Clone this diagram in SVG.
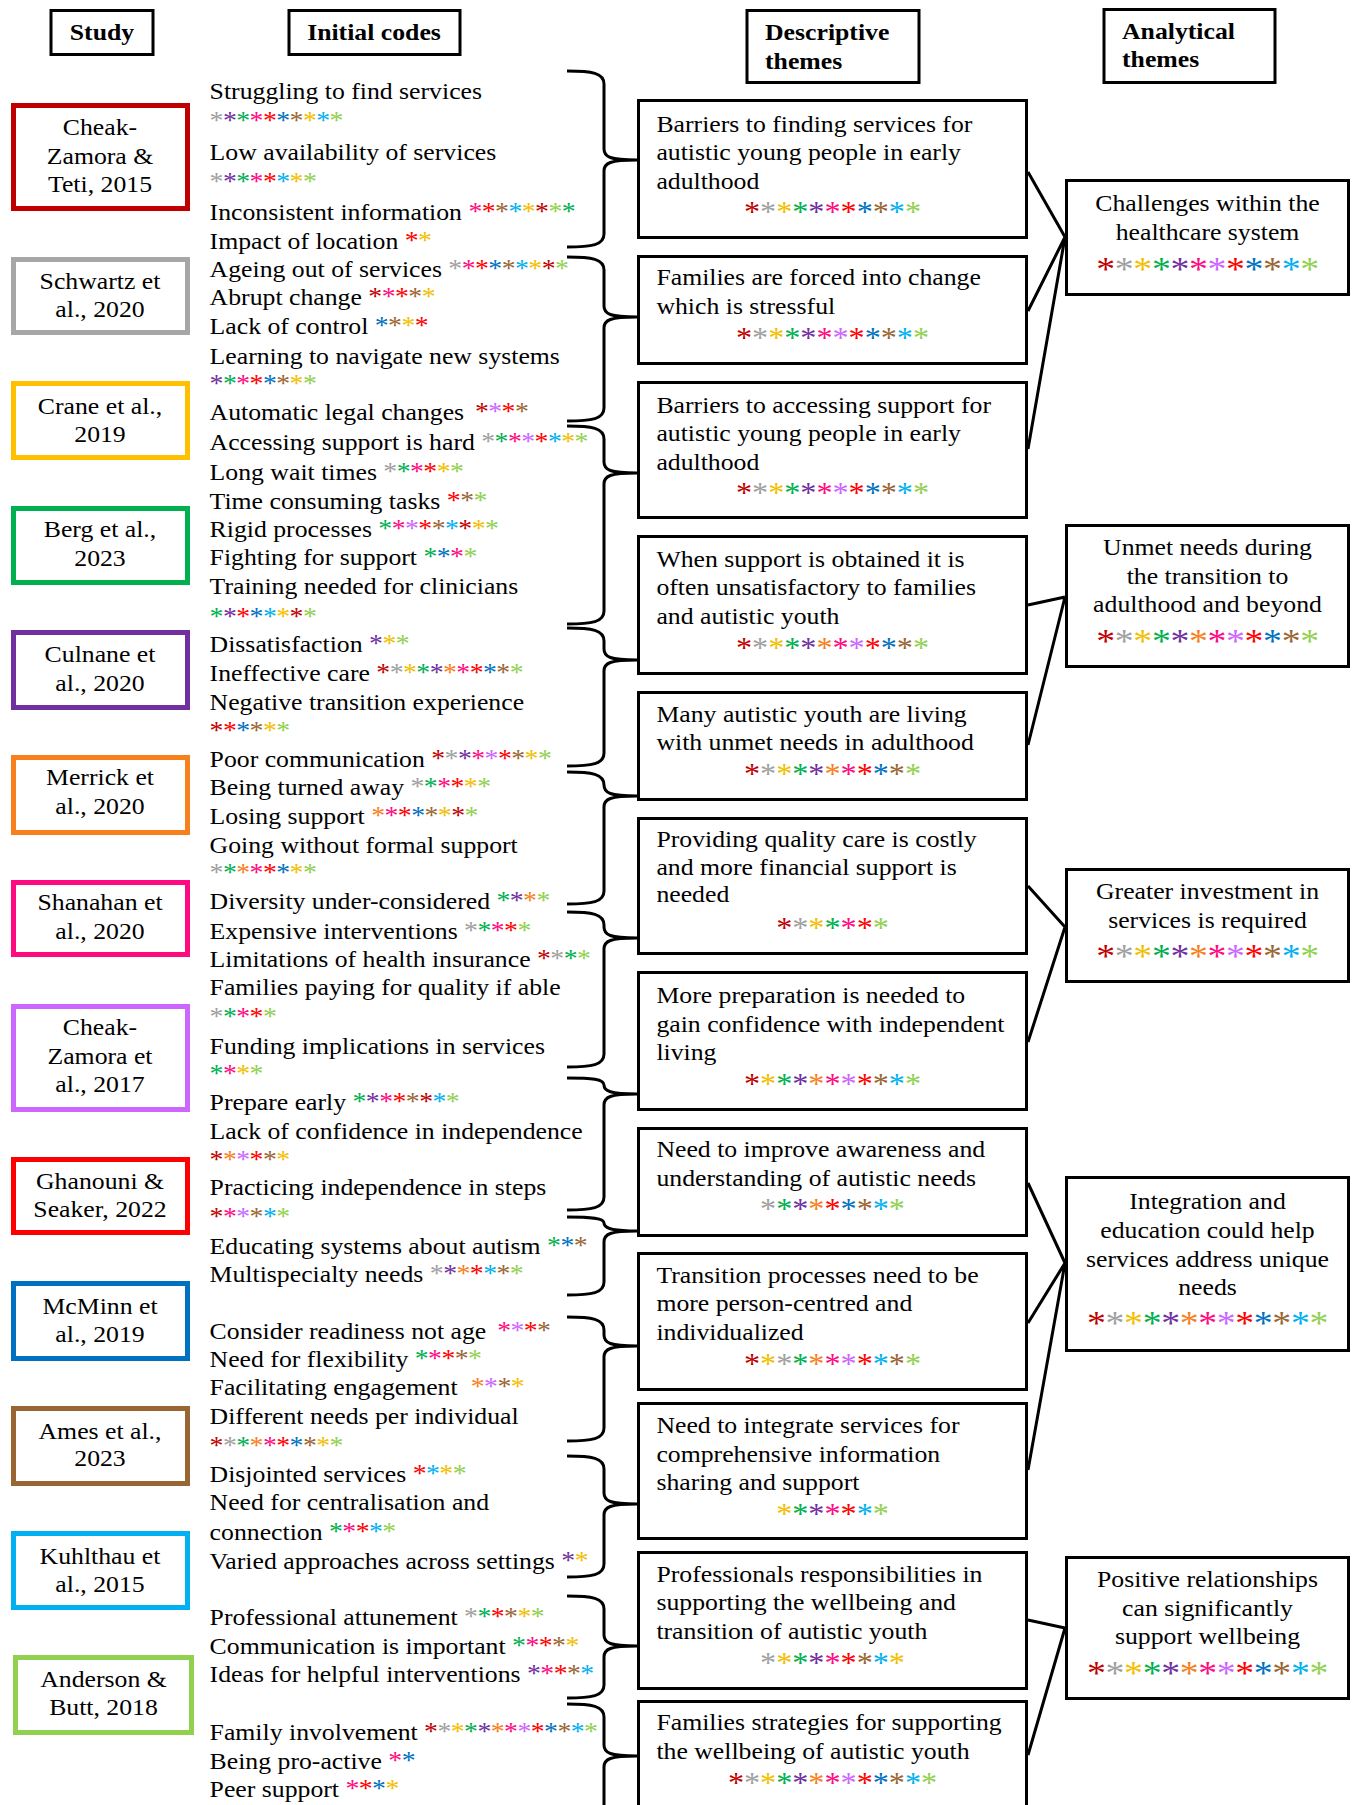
<svg xmlns="http://www.w3.org/2000/svg" width="1356" height="1805" viewBox="0 0 1356 1805">
<style>
text{font-family:"Liberation Serif","Times New Roman",serif;font-size:23.2px;fill:#000}
.b{font-weight:bold}
.m{text-anchor:middle}
.s{font-size:25px;letter-spacing:-0.5px}
.sd{font-size:29px;letter-spacing:0px}
.sa{font-size:34px;letter-spacing:-0.3px}
.k1{fill:#C00000}.k2{fill:#A0A0A0}.k3{fill:#F2BE00}.k4{fill:#00B050}.k5{fill:#7030A0}.k6{fill:#F7801E}.k7{fill:#FF0A80}.k8{fill:#CC66FF}.k9{fill:#FF0000}.k10{fill:#0070C0}.k11{fill:#996633}.k12{fill:#00B0F0}.k13{fill:#92D050}
.box{fill:#fff;stroke:#000;stroke-width:3}
.sb{fill:#fff;stroke-width:5}
.b1{stroke:#C00000}.b2{stroke:#A6A6A6}.b3{stroke:#FFC000}.b4{stroke:#00B050}.b5{stroke:#7030A0}.b6{stroke:#F7801E}.b7{stroke:#FF0A80}.b8{stroke:#CC66FF}.b9{stroke:#FF0000}.b10{stroke:#0070C0}.b11{stroke:#996633}.b12{stroke:#00B0F0}.b13{stroke:#92D050}
.br{fill:none;stroke:#000;stroke-width:3}
.ln{fill:none;stroke:#000;stroke-width:3}
</style>
<rect width="1356" height="1805" fill="#fff"/>

<g id="headers">
<g id="h-study"><rect class="box" x="51" y="10.5" width="102" height="44"/><g transform="translate(102,0) scale(1.11,1)"><text class="b m" x="0" y="40">Study</text></g></g>
<g id="h-codes"><rect class="box" x="289" y="10.5" width="171" height="44"/><g transform="translate(374,0) scale(1.11,1)"><text class="b m" x="0" y="40">Initial codes</text></g></g>
<g id="h-desc"><rect class="box" x="747" y="10.5" width="172" height="72"/><g transform="translate(765,0) scale(1.11,1)"><text class="b"><tspan x="0" y="40">Descriptive</tspan><tspan x="0" y="69">themes</tspan></text></g></g>
<g id="h-anal"><rect class="box" x="1104" y="9.5" width="171" height="73"/><g transform="translate(1122,0) scale(1.11,1)"><text class="b"><tspan x="0" y="39">Analytical</tspan><tspan x="0" y="67">themes</tspan></text></g></g>
</g>

<g id="studies">
<g id="study-1"><rect class="sb b1" x="13.5" y="105.5" width="174" height="103"/><g transform="translate(100,0) scale(1.11,1)"><text class="m"><tspan x="0" y="135">Cheak-</tspan><tspan x="0" y="164">Zamora &amp;</tspan><tspan x="0" y="192">Teti, 2015</tspan></text></g></g>
<g id="study-2"><rect class="sb b2" x="13.5" y="259.5" width="174" height="73"/><g transform="translate(100,0) scale(1.11,1)"><text class="m"><tspan x="0" y="289">Schwartz et</tspan><tspan x="0" y="317">al., 2020</tspan></text></g></g>
<g id="study-3"><rect class="sb b3" x="13.5" y="383.5" width="174" height="74"/><g transform="translate(100,0) scale(1.11,1)"><text class="m"><tspan x="0" y="414">Crane et al.,</tspan><tspan x="0" y="442">2019</tspan></text></g></g>
<g id="study-4"><rect class="sb b4" x="13.5" y="508.5" width="174" height="74"/><g transform="translate(100,0) scale(1.11,1)"><text class="m"><tspan x="0" y="537">Berg et al.,</tspan><tspan x="0" y="566">2023</tspan></text></g></g>
<g id="study-5"><rect class="sb b5" x="13.5" y="632.5" width="174" height="75"/><g transform="translate(100,0) scale(1.11,1)"><text class="m"><tspan x="0" y="662">Culnane et</tspan><tspan x="0" y="691">al., 2020</tspan></text></g></g>
<g id="study-6"><rect class="sb b6" x="13.5" y="757.5" width="174" height="75"/><g transform="translate(100,0) scale(1.11,1)"><text class="m"><tspan x="0" y="785">Merrick et</tspan><tspan x="0" y="814">al., 2020</tspan></text></g></g>
<g id="study-7"><rect class="sb b7" x="13.5" y="882.5" width="174" height="72"/><g transform="translate(100,0) scale(1.11,1)"><text class="m"><tspan x="0" y="910">Shanahan et</tspan><tspan x="0" y="939">al., 2020</tspan></text></g></g>
<g id="study-8"><rect class="sb b8" x="13.5" y="1006.5" width="174" height="103"/><g transform="translate(100,0) scale(1.11,1)"><text class="m"><tspan x="0" y="1035">Cheak-</tspan><tspan x="0" y="1064">Zamora et</tspan><tspan x="0" y="1092">al., 2017</tspan></text></g></g>
<g id="study-9"><rect class="sb b9" x="13.5" y="1159.5" width="174" height="73"/><g transform="translate(100,0) scale(1.11,1)"><text class="m"><tspan x="0" y="1189">Ghanouni &amp;</tspan><tspan x="0" y="1217">Seaker, 2022</tspan></text></g></g>
<g id="study-10"><rect class="sb b10" x="13.5" y="1283.5" width="174" height="75"/><g transform="translate(100,0) scale(1.11,1)"><text class="m"><tspan x="0" y="1314">McMinn et</tspan><tspan x="0" y="1342">al., 2019</tspan></text></g></g>
<g id="study-11"><rect class="sb b11" x="13.5" y="1408.5" width="174" height="75"/><g transform="translate(100,0) scale(1.11,1)"><text class="m"><tspan x="0" y="1439">Ames et al.,</tspan><tspan x="0" y="1466">2023</tspan></text></g></g>
<g id="study-12"><rect class="sb b12" x="13.5" y="1533.5" width="174" height="74"/><g transform="translate(100,0) scale(1.11,1)"><text class="m"><tspan x="0" y="1564">Kuhlthau et</tspan><tspan x="0" y="1592">al., 2015</tspan></text></g></g>
<g id="study-13"><rect class="sb b13" x="15.5" y="1657.5" width="176" height="75"/><g transform="translate(103.5,0) scale(1.11,1)"><text class="m"><tspan x="0" y="1687">Anderson &amp;</tspan><tspan x="0" y="1715">Butt, 2018</tspan></text></g></g>
</g>

<g id="initial-codes" transform="translate(209.6,0) scale(1.11,1)">
<text y="99">Struggling to find services</text>
<text class="s" y="129"><tspan class="k2">*</tspan><tspan class="k5">*</tspan><tspan class="k4">*</tspan><tspan class="k7">*</tspan><tspan class="k9">*</tspan><tspan class="k10">*</tspan><tspan class="k11">*</tspan><tspan class="k3">*</tspan><tspan class="k12">*</tspan><tspan class="k13">*</tspan></text>
<text y="160">Low availability of services</text>
<text class="s" y="190"><tspan class="k2">*</tspan><tspan class="k5">*</tspan><tspan class="k4">*</tspan><tspan class="k7">*</tspan><tspan class="k9">*</tspan><tspan class="k12">*</tspan><tspan class="k3">*</tspan><tspan class="k13">*</tspan></text>
<text y="220">Inconsistent information <tspan class="s"><tspan class="k7">*</tspan><tspan class="k9">*</tspan><tspan class="k11">*</tspan><tspan class="k12">*</tspan><tspan class="k3">*</tspan><tspan class="k1">*</tspan><tspan class="k13">*</tspan><tspan class="k4">*</tspan></tspan></text>
<text y="249">Impact of location <tspan class="s"><tspan class="k9">*</tspan><tspan class="k3">*</tspan></tspan></text>
<text y="277">Ageing out of services <tspan class="s"><tspan class="k2">*</tspan><tspan class="k7">*</tspan><tspan class="k9">*</tspan><tspan class="k10">*</tspan><tspan class="k11">*</tspan><tspan class="k12">*</tspan><tspan class="k3">*</tspan><tspan class="k1">*</tspan><tspan class="k13">*</tspan></tspan></text>
<text y="305">Abrupt change <tspan class="s"><tspan class="k1">*</tspan><tspan class="k7">*</tspan><tspan class="k9">*</tspan><tspan class="k11">*</tspan><tspan class="k3">*</tspan></tspan></text>
<text y="334">Lack of control <tspan class="s"><tspan class="k10">*</tspan><tspan class="k11">*</tspan><tspan class="k3">*</tspan><tspan class="k9">*</tspan></tspan></text>
<text y="364">Learning to navigate new systems</text>
<text class="s" y="392"><tspan class="k5">*</tspan><tspan class="k4">*</tspan><tspan class="k7">*</tspan><tspan class="k9">*</tspan><tspan class="k10">*</tspan><tspan class="k11">*</tspan><tspan class="k3">*</tspan><tspan class="k13">*</tspan></text>
<text y="420">Automatic legal changes <tspan class="s" dx="4"><tspan class="k1">*</tspan><tspan class="k8">*</tspan><tspan class="k9">*</tspan><tspan class="k11">*</tspan></tspan></text>
<text y="450">Accessing support is hard <tspan class="s"><tspan class="k2">*</tspan><tspan class="k4">*</tspan><tspan class="k7">*</tspan><tspan class="k8">*</tspan><tspan class="k9">*</tspan><tspan class="k12">*</tspan><tspan class="k3">*</tspan><tspan class="k13">*</tspan></tspan></text>
<text y="480">Long wait times <tspan class="s"><tspan class="k2">*</tspan><tspan class="k4">*</tspan><tspan class="k7">*</tspan><tspan class="k9">*</tspan><tspan class="k3">*</tspan><tspan class="k13">*</tspan></tspan></text>
<text y="509">Time consuming tasks <tspan class="s"><tspan class="k9">*</tspan><tspan class="k11">*</tspan><tspan class="k13">*</tspan></tspan></text>
<text y="537">Rigid processes <tspan class="s"><tspan class="k4">*</tspan><tspan class="k7">*</tspan><tspan class="k8">*</tspan><tspan class="k9">*</tspan><tspan class="k11">*</tspan><tspan class="k12">*</tspan><tspan class="k1">*</tspan><tspan class="k3">*</tspan><tspan class="k13">*</tspan></tspan></text>
<text y="565">Fighting for support <tspan class="s"><tspan class="k4">*</tspan><tspan class="k10">*</tspan><tspan class="k7">*</tspan><tspan class="k13">*</tspan></tspan></text>
<text y="594">Training needed for clinicians</text>
<text class="s" y="625"><tspan class="k4">*</tspan><tspan class="k5">*</tspan><tspan class="k9">*</tspan><tspan class="k10">*</tspan><tspan class="k12">*</tspan><tspan class="k3">*</tspan><tspan class="k1">*</tspan><tspan class="k13">*</tspan></text>
<text y="652">Dissatisfaction <tspan class="s"><tspan class="k5">*</tspan><tspan class="k3">*</tspan><tspan class="k13">*</tspan></tspan></text>
<text y="681">Ineffective care <tspan class="s"><tspan class="k1">*</tspan><tspan class="k2">*</tspan><tspan class="k3">*</tspan><tspan class="k4">*</tspan><tspan class="k5">*</tspan><tspan class="k6">*</tspan><tspan class="k7">*</tspan><tspan class="k9">*</tspan><tspan class="k10">*</tspan><tspan class="k11">*</tspan><tspan class="k13">*</tspan></tspan></text>
<text y="710">Negative transition experience</text>
<text class="s" y="739"><tspan class="k1">*</tspan><tspan class="k9">*</tspan><tspan class="k10">*</tspan><tspan class="k11">*</tspan><tspan class="k3">*</tspan><tspan class="k13">*</tspan></text>
<text y="767">Poor communication <tspan class="s"><tspan class="k1">*</tspan><tspan class="k2">*</tspan><tspan class="k5">*</tspan><tspan class="k7">*</tspan><tspan class="k8">*</tspan><tspan class="k9">*</tspan><tspan class="k11">*</tspan><tspan class="k3">*</tspan><tspan class="k13">*</tspan></tspan></text>
<text y="795">Being turned away <tspan class="s"><tspan class="k2">*</tspan><tspan class="k4">*</tspan><tspan class="k7">*</tspan><tspan class="k9">*</tspan><tspan class="k3">*</tspan><tspan class="k13">*</tspan></tspan></text>
<text y="824">Losing support <tspan class="s"><tspan class="k6">*</tspan><tspan class="k7">*</tspan><tspan class="k9">*</tspan><tspan class="k10">*</tspan><tspan class="k11">*</tspan><tspan class="k3">*</tspan><tspan class="k1">*</tspan><tspan class="k13">*</tspan></tspan></text>
<text y="853">Going without formal support</text>
<text class="s" y="881"><tspan class="k2">*</tspan><tspan class="k4">*</tspan><tspan class="k6">*</tspan><tspan class="k7">*</tspan><tspan class="k9">*</tspan><tspan class="k10">*</tspan><tspan class="k3">*</tspan><tspan class="k13">*</tspan></text>
<text y="909">Diversity under-considered <tspan class="s"><tspan class="k4">*</tspan><tspan class="k5">*</tspan><tspan class="k6">*</tspan><tspan class="k13">*</tspan></tspan></text>
<text y="939">Expensive interventions <tspan class="s"><tspan class="k2">*</tspan><tspan class="k4">*</tspan><tspan class="k7">*</tspan><tspan class="k9">*</tspan><tspan class="k13">*</tspan></tspan></text>
<text y="967">Limitations of health insurance <tspan class="s"><tspan class="k1">*</tspan><tspan class="k2">*</tspan><tspan class="k4">*</tspan><tspan class="k13">*</tspan></tspan></text>
<text y="995">Families paying for quality if able</text>
<text class="s" y="1025"><tspan class="k2">*</tspan><tspan class="k4">*</tspan><tspan class="k7">*</tspan><tspan class="k9">*</tspan><tspan class="k13">*</tspan></text>
<text y="1054">Funding implications in services</text>
<text class="s" y="1082"><tspan class="k4">*</tspan><tspan class="k7">*</tspan><tspan class="k3">*</tspan><tspan class="k13">*</tspan></text>
<text y="1110">Prepare early <tspan class="s"><tspan class="k4">*</tspan><tspan class="k5">*</tspan><tspan class="k7">*</tspan><tspan class="k9">*</tspan><tspan class="k11">*</tspan><tspan class="k1">*</tspan><tspan class="k12">*</tspan><tspan class="k13">*</tspan></tspan></text>
<text y="1139">Lack of confidence in independence</text>
<text class="s" y="1168"><tspan class="k1">*</tspan><tspan class="k6">*</tspan><tspan class="k8">*</tspan><tspan class="k9">*</tspan><tspan class="k11">*</tspan><tspan class="k3">*</tspan></text>
<text y="1195">Practicing independence in steps</text>
<text class="s" y="1225"><tspan class="k1">*</tspan><tspan class="k7">*</tspan><tspan class="k8">*</tspan><tspan class="k11">*</tspan><tspan class="k12">*</tspan><tspan class="k13">*</tspan></text>
<text y="1254">Educating systems about autism <tspan class="s"><tspan class="k4">*</tspan><tspan class="k10">*</tspan><tspan class="k11">*</tspan></tspan></text>
<text y="1282">Multispecialty needs <tspan class="s"><tspan class="k2">*</tspan><tspan class="k5">*</tspan><tspan class="k6">*</tspan><tspan class="k9">*</tspan><tspan class="k12">*</tspan><tspan class="k11">*</tspan><tspan class="k13">*</tspan></tspan></text>
<text y="1339">Consider readiness not age <tspan class="s" dx="4"><tspan class="k7">*</tspan><tspan class="k8">*</tspan><tspan class="k9">*</tspan><tspan class="k11">*</tspan></tspan></text>
<text y="1367">Need for flexibility <tspan class="s"><tspan class="k4">*</tspan><tspan class="k7">*</tspan><tspan class="k9">*</tspan><tspan class="k11">*</tspan><tspan class="k13">*</tspan></tspan></text>
<text y="1395">Facilitating engagement <tspan class="s" dx="6"><tspan class="k6">*</tspan><tspan class="k8">*</tspan><tspan class="k11">*</tspan><tspan class="k3">*</tspan></tspan></text>
<text y="1424">Different needs per individual</text>
<text class="s" y="1454"><tspan class="k1">*</tspan><tspan class="k2">*</tspan><tspan class="k4">*</tspan><tspan class="k6">*</tspan><tspan class="k7">*</tspan><tspan class="k9">*</tspan><tspan class="k10">*</tspan><tspan class="k11">*</tspan><tspan class="k3">*</tspan><tspan class="k13">*</tspan></text>
<text y="1482">Disjointed services <tspan class="s"><tspan class="k9">*</tspan><tspan class="k12">*</tspan><tspan class="k3">*</tspan><tspan class="k13">*</tspan></tspan></text>
<text y="1510">Need for centralisation and</text>
<text y="1540">connection <tspan class="s"><tspan class="k4">*</tspan><tspan class="k7">*</tspan><tspan class="k9">*</tspan><tspan class="k12">*</tspan><tspan class="k13">*</tspan></tspan></text>
<text y="1569">Varied approaches across settings <tspan class="s"><tspan class="k5">*</tspan><tspan class="k3">*</tspan></tspan></text>
<text y="1625">Professional attunement <tspan class="s"><tspan class="k2">*</tspan><tspan class="k4">*</tspan><tspan class="k9">*</tspan><tspan class="k11">*</tspan><tspan class="k3">*</tspan><tspan class="k13">*</tspan></tspan></text>
<text y="1654">Communication is important <tspan class="s"><tspan class="k4">*</tspan><tspan class="k7">*</tspan><tspan class="k9">*</tspan><tspan class="k11">*</tspan><tspan class="k3">*</tspan></tspan></text>
<text y="1682">Ideas for helpful interventions <tspan class="s"><tspan class="k5">*</tspan><tspan class="k7">*</tspan><tspan class="k9">*</tspan><tspan class="k11">*</tspan><tspan class="k12">*</tspan></tspan></text>
<text y="1740">Family involvement <tspan class="s"><tspan class="k1">*</tspan><tspan class="k2">*</tspan><tspan class="k3">*</tspan><tspan class="k4">*</tspan><tspan class="k5">*</tspan><tspan class="k6">*</tspan><tspan class="k7">*</tspan><tspan class="k8">*</tspan><tspan class="k9">*</tspan><tspan class="k10">*</tspan><tspan class="k11">*</tspan><tspan class="k12">*</tspan><tspan class="k13">*</tspan></tspan></text>
<text y="1769">Being pro-active <tspan class="s"><tspan class="k7">*</tspan><tspan class="k10">*</tspan></tspan></text>
<text y="1797">Peer support <tspan class="s"><tspan class="k7">*</tspan><tspan class="k9">*</tspan><tspan class="k10">*</tspan><tspan class="k3">*</tspan></tspan></text>
</g>

<g id="descriptive-themes">
<g id="desc-1"><rect class="box" x="638.5" y="100.5" width="388" height="137"/><g transform="translate(656.4,0) scale(1.11,1)"><text><tspan x="0" y="132">Barriers to finding services for</tspan><tspan x="0" y="160">autistic young people in early</tspan><tspan x="0" y="189">adulthood</tspan></text></g><g transform="translate(832.5,0) scale(1.11,1)"><text class="sd m" x="0" y="221"><tspan class="k1">*</tspan><tspan class="k2">*</tspan><tspan class="k3">*</tspan><tspan class="k4">*</tspan><tspan class="k5">*</tspan><tspan class="k7">*</tspan><tspan class="k9">*</tspan><tspan class="k10">*</tspan><tspan class="k11">*</tspan><tspan class="k12">*</tspan><tspan class="k13">*</tspan></text></g></g>
<g id="desc-2"><rect class="box" x="638.5" y="256.5" width="388" height="107"/><g transform="translate(656.4,0) scale(1.11,1)"><text><tspan x="0" y="285">Families are forced into change</tspan><tspan x="0" y="314">which is stressful</tspan></text></g><g transform="translate(832.5,0) scale(1.11,1)"><text class="sd m" x="0" y="347"><tspan class="k1">*</tspan><tspan class="k2">*</tspan><tspan class="k3">*</tspan><tspan class="k4">*</tspan><tspan class="k5">*</tspan><tspan class="k7">*</tspan><tspan class="k8">*</tspan><tspan class="k9">*</tspan><tspan class="k10">*</tspan><tspan class="k11">*</tspan><tspan class="k12">*</tspan><tspan class="k13">*</tspan></text></g></g>
<g id="desc-3"><rect class="box" x="638.5" y="382.5" width="388" height="135"/><g transform="translate(656.4,0) scale(1.11,1)"><text><tspan x="0" y="413">Barriers to accessing support for</tspan><tspan x="0" y="441">autistic young people in early</tspan><tspan x="0" y="470">adulthood</tspan></text></g><g transform="translate(832.5,0) scale(1.11,1)"><text class="sd m" x="0" y="502"><tspan class="k1">*</tspan><tspan class="k2">*</tspan><tspan class="k3">*</tspan><tspan class="k4">*</tspan><tspan class="k5">*</tspan><tspan class="k7">*</tspan><tspan class="k8">*</tspan><tspan class="k9">*</tspan><tspan class="k10">*</tspan><tspan class="k11">*</tspan><tspan class="k12">*</tspan><tspan class="k13">*</tspan></text></g></g>
<g id="desc-4"><rect class="box" x="638.5" y="536.5" width="388" height="137"/><g transform="translate(656.4,0) scale(1.11,1)"><text><tspan x="0" y="567">When support is obtained it is</tspan><tspan x="0" y="595">often unsatisfactory to families</tspan><tspan x="0" y="624">and autistic youth</tspan></text></g><g transform="translate(832.5,0) scale(1.11,1)"><text class="sd m" x="0" y="657"><tspan class="k1">*</tspan><tspan class="k2">*</tspan><tspan class="k3">*</tspan><tspan class="k4">*</tspan><tspan class="k5">*</tspan><tspan class="k6">*</tspan><tspan class="k7">*</tspan><tspan class="k8">*</tspan><tspan class="k9">*</tspan><tspan class="k10">*</tspan><tspan class="k11">*</tspan><tspan class="k13">*</tspan></text></g></g>
<g id="desc-5"><rect class="box" x="638.5" y="692.5" width="388" height="107"/><g transform="translate(656.4,0) scale(1.11,1)"><text><tspan x="0" y="722">Many autistic youth are living</tspan><tspan x="0" y="750">with unmet needs in adulthood</tspan></text></g><g transform="translate(832.5,0) scale(1.11,1)"><text class="sd m" x="0" y="783"><tspan class="k1">*</tspan><tspan class="k2">*</tspan><tspan class="k3">*</tspan><tspan class="k4">*</tspan><tspan class="k5">*</tspan><tspan class="k6">*</tspan><tspan class="k7">*</tspan><tspan class="k9">*</tspan><tspan class="k10">*</tspan><tspan class="k11">*</tspan><tspan class="k13">*</tspan></text></g></g>
<g id="desc-6"><rect class="box" x="638.5" y="818.5" width="388" height="135"/><g transform="translate(656.4,0) scale(1.11,1)"><text><tspan x="0" y="847">Providing quality care is costly</tspan><tspan x="0" y="875">and more financial support is</tspan><tspan x="0" y="902">needed</tspan></text></g><g transform="translate(832.5,0) scale(1.11,1)"><text class="sd m" x="0" y="937"><tspan class="k1">*</tspan><tspan class="k2">*</tspan><tspan class="k3">*</tspan><tspan class="k4">*</tspan><tspan class="k7">*</tspan><tspan class="k9">*</tspan><tspan class="k13">*</tspan></text></g></g>
<g id="desc-7"><rect class="box" x="638.5" y="972.5" width="388" height="137"/><g transform="translate(656.4,0) scale(1.11,1)"><text><tspan x="0" y="1003">More preparation is needed to</tspan><tspan x="0" y="1032">gain confidence with independent</tspan><tspan x="0" y="1060">living</tspan></text></g><g transform="translate(832.5,0) scale(1.11,1)"><text class="sd m" x="0" y="1093"><tspan class="k1">*</tspan><tspan class="k3">*</tspan><tspan class="k4">*</tspan><tspan class="k5">*</tspan><tspan class="k6">*</tspan><tspan class="k7">*</tspan><tspan class="k8">*</tspan><tspan class="k9">*</tspan><tspan class="k11">*</tspan><tspan class="k12">*</tspan><tspan class="k13">*</tspan></text></g></g>
<g id="desc-8"><rect class="box" x="638.5" y="1128.5" width="388" height="107"/><g transform="translate(656.4,0) scale(1.11,1)"><text><tspan x="0" y="1157">Need to improve awareness and</tspan><tspan x="0" y="1186">understanding of autistic needs</tspan></text></g><g transform="translate(832.5,0) scale(1.11,1)"><text class="sd m" x="0" y="1218"><tspan class="k2">*</tspan><tspan class="k4">*</tspan><tspan class="k5">*</tspan><tspan class="k6">*</tspan><tspan class="k9">*</tspan><tspan class="k10">*</tspan><tspan class="k11">*</tspan><tspan class="k12">*</tspan><tspan class="k13">*</tspan></text></g></g>
<g id="desc-9"><rect class="box" x="638.5" y="1253.5" width="388" height="136"/><g transform="translate(656.4,0) scale(1.11,1)"><text><tspan x="0" y="1283">Transition processes need to be</tspan><tspan x="0" y="1311">more person-centred and</tspan><tspan x="0" y="1340">individualized</tspan></text></g><g transform="translate(832.5,0) scale(1.11,1)"><text class="sd m" x="0" y="1373"><tspan class="k1">*</tspan><tspan class="k3">*</tspan><tspan class="k2">*</tspan><tspan class="k4">*</tspan><tspan class="k6">*</tspan><tspan class="k7">*</tspan><tspan class="k8">*</tspan><tspan class="k9">*</tspan><tspan class="k12">*</tspan><tspan class="k11">*</tspan><tspan class="k13">*</tspan></text></g></g>
<g id="desc-10"><rect class="box" x="638.5" y="1403.5" width="388" height="135"/><g transform="translate(656.4,0) scale(1.11,1)"><text><tspan x="0" y="1433">Need to integrate services for</tspan><tspan x="0" y="1462">comprehensive information</tspan><tspan x="0" y="1490">sharing and support</tspan></text></g><g transform="translate(832.5,0) scale(1.11,1)"><text class="sd m" x="0" y="1523"><tspan class="k3">*</tspan><tspan class="k4">*</tspan><tspan class="k5">*</tspan><tspan class="k7">*</tspan><tspan class="k9">*</tspan><tspan class="k12">*</tspan><tspan class="k13">*</tspan></text></g></g>
<g id="desc-11"><rect class="box" x="638.5" y="1552.5" width="388" height="136"/><g transform="translate(656.4,0) scale(1.11,1)"><text><tspan x="0" y="1582">Professionals responsibilities in</tspan><tspan x="0" y="1610">supporting the wellbeing and</tspan><tspan x="0" y="1639">transition of autistic youth</tspan></text></g><g transform="translate(832.5,0) scale(1.11,1)"><text class="sd m" x="0" y="1672"><tspan class="k2">*</tspan><tspan class="k3">*</tspan><tspan class="k4">*</tspan><tspan class="k5">*</tspan><tspan class="k7">*</tspan><tspan class="k9">*</tspan><tspan class="k11">*</tspan><tspan class="k12">*</tspan><tspan class="k3">*</tspan></text></g></g>
<g id="desc-12"><rect class="box" x="638.5" y="1701.5" width="388" height="150"/><g transform="translate(656.4,0) scale(1.11,1)"><text><tspan x="0" y="1730">Families strategies for supporting</tspan><tspan x="0" y="1759">the wellbeing of autistic youth</tspan></text></g><g transform="translate(832.5,0) scale(1.11,1)"><text class="sd m" x="0" y="1792"><tspan class="k1">*</tspan><tspan class="k2">*</tspan><tspan class="k3">*</tspan><tspan class="k4">*</tspan><tspan class="k5">*</tspan><tspan class="k6">*</tspan><tspan class="k7">*</tspan><tspan class="k8">*</tspan><tspan class="k9">*</tspan><tspan class="k10">*</tspan><tspan class="k11">*</tspan><tspan class="k12">*</tspan><tspan class="k13">*</tspan></text></g></g>
</g>

<g id="analytical-themes">
<g id="anal-1"><rect class="box" x="1066.5" y="180.5" width="282" height="114"/><g transform="translate(1207.5,0) scale(1.11,1)"><text class="m"><tspan x="0" y="211">Challenges within the</tspan><tspan x="0" y="240">healthcare system</tspan></text><text class="sa m" x="0" y="280"><tspan class="k1">*</tspan><tspan class="k2">*</tspan><tspan class="k3">*</tspan><tspan class="k4">*</tspan><tspan class="k5">*</tspan><tspan class="k7">*</tspan><tspan class="k8">*</tspan><tspan class="k9">*</tspan><tspan class="k10">*</tspan><tspan class="k11">*</tspan><tspan class="k12">*</tspan><tspan class="k13">*</tspan></text></g></g>
<g id="anal-2"><rect class="box" x="1066.5" y="525.5" width="282" height="141"/><g transform="translate(1207.5,0) scale(1.11,1)"><text class="m"><tspan x="0" y="555">Unmet needs during</tspan><tspan x="0" y="584">the transition to</tspan><tspan x="0" y="612">adulthood and beyond</tspan></text><text class="sa m" x="0" y="652"><tspan class="k1">*</tspan><tspan class="k2">*</tspan><tspan class="k3">*</tspan><tspan class="k4">*</tspan><tspan class="k5">*</tspan><tspan class="k6">*</tspan><tspan class="k7">*</tspan><tspan class="k8">*</tspan><tspan class="k9">*</tspan><tspan class="k10">*</tspan><tspan class="k11">*</tspan><tspan class="k13">*</tspan></text></g></g>
<g id="anal-3"><rect class="box" x="1066.5" y="869.5" width="282" height="112"/><g transform="translate(1207.5,0) scale(1.11,1)"><text class="m"><tspan x="0" y="899">Greater investment in</tspan><tspan x="0" y="928">services is required</tspan></text><text class="sa m" x="0" y="967"><tspan class="k1">*</tspan><tspan class="k2">*</tspan><tspan class="k3">*</tspan><tspan class="k4">*</tspan><tspan class="k5">*</tspan><tspan class="k6">*</tspan><tspan class="k7">*</tspan><tspan class="k8">*</tspan><tspan class="k9">*</tspan><tspan class="k11">*</tspan><tspan class="k12">*</tspan><tspan class="k13">*</tspan></text></g></g>
<g id="anal-4"><rect class="box" x="1066.5" y="1177.5" width="282" height="173"/><g transform="translate(1207.5,0) scale(1.11,1)"><text class="m"><tspan x="0" y="1209">Integration and</tspan><tspan x="0" y="1238">education could help</tspan><tspan x="0" y="1267">services address unique</tspan><tspan x="0" y="1295">needs</tspan></text><text class="sa m" x="0" y="1334"><tspan class="k1">*</tspan><tspan class="k2">*</tspan><tspan class="k3">*</tspan><tspan class="k4">*</tspan><tspan class="k5">*</tspan><tspan class="k6">*</tspan><tspan class="k7">*</tspan><tspan class="k8">*</tspan><tspan class="k9">*</tspan><tspan class="k10">*</tspan><tspan class="k11">*</tspan><tspan class="k12">*</tspan><tspan class="k13">*</tspan></text></g></g>
<g id="anal-5"><rect class="box" x="1066.5" y="1557.5" width="282" height="141"/><g transform="translate(1207.5,0) scale(1.11,1)"><text class="m"><tspan x="0" y="1587">Positive relationships</tspan><tspan x="0" y="1616">can significantly</tspan><tspan x="0" y="1644">support wellbeing</tspan></text><text class="sa m" x="0" y="1684"><tspan class="k1">*</tspan><tspan class="k2">*</tspan><tspan class="k3">*</tspan><tspan class="k4">*</tspan><tspan class="k5">*</tspan><tspan class="k6">*</tspan><tspan class="k7">*</tspan><tspan class="k8">*</tspan><tspan class="k9">*</tspan><tspan class="k10">*</tspan><tspan class="k11">*</tspan><tspan class="k12">*</tspan><tspan class="k13">*</tspan></text></g></g>
</g>

<g id="connectors">
<path class="br" d="M567,71 C592,71 604,73 604,84 L604,149 C604,157 610,160 637,160 M637,160 C610,160 604,163 604,171 L604,234 C604,245 592,247 567,247"/>
<path class="br" d="M567,257 C592,257 604,259 604,270 L604,306 C604,314 610,317 637,317 M637,317 C610,317 604,320 604,328 L604,408 C604,419 592,421 567,421"/>
<path class="br" d="M567,426 C592,426 604,428 604,439 L604,462 C604,470 610,473 637,473 M637,473 C610,473 604,476 604,484 L604,611 C604,622 592,624 567,624"/>
<path class="br" d="M567,628 C592,628 604,630 604,641 L604,649 C604,657 610,660 637,660 M637,660 C610,660 604,663 604,671 L604,753 C604,764 592,766 567,766"/>
<path class="br" d="M567,772 C592,772 604,774 604,785 C604,793 610,796 637,796 M637,796 C610,796 604,799 604,807 L604,891 C604,902 592,904 567,904"/>
<path class="br" d="M567,912 C592,912 604,914 604,925 L604,927 C604,935 610,938 637,938 M637,938 C610,938 604,941 604,949 L604,1054 C604,1065 592,1067 567,1067"/>
<path class="br" d="M567,1078 C592,1078 604,1079 604,1085 C604,1091 610,1094 637,1094 M637,1094 C610,1094 604,1097 604,1105 L604,1197 C604,1208 592,1210 567,1210"/>
<path class="br" d="M567,1217 C592,1217 604,1218 604,1223 C604,1228 610,1231 637,1231 M637,1231 C610,1231 604,1234 604,1242 L604,1282 C604,1293 592,1295 567,1295"/>
<path class="br" d="M567,1317 C592,1317 604,1319 604,1330 L604,1335 C604,1343 610,1346 637,1346 M637,1346 C610,1346 604,1349 604,1357 L604,1428 C604,1439 592,1441 567,1441"/>
<path class="br" d="M567,1456 C592,1456 604,1458 604,1469 L604,1493 C604,1501 610,1504 637,1504 M637,1504 C610,1504 604,1507 604,1515 L604,1564 C604,1575 592,1577 567,1577"/>
<path class="br" d="M567,1596 C592,1596 604,1598 604,1609 L604,1635 C604,1643 610,1646 637,1646 M637,1646 C610,1646 604,1649 604,1657 L604,1685 C604,1696 592,1698 567,1698"/>
<path class="br" d="M567,1704 C592,1704 604,1706 604,1717 L604,1745 C604,1753 610,1756 637,1756 M637,1756 C610,1756 604,1759 604,1767 L604,1830"/>
<path class="ln" d="M1028,172 L1065,237 M1028,311 L1065,237 M1028,449 L1065,237"/>
<path class="ln" d="M1028,605 L1065,597 M1028,745 L1065,597"/>
<path class="ln" d="M1028,886 L1065,927 M1028,1042 L1065,927"/>
<path class="ln" d="M1028,1183 L1065,1263 M1028,1323 L1065,1263 M1028,1470 L1065,1263"/>
<path class="ln" d="M1028,1620 L1065,1628 M1028,1755 L1065,1628"/>
</g>
</svg>
